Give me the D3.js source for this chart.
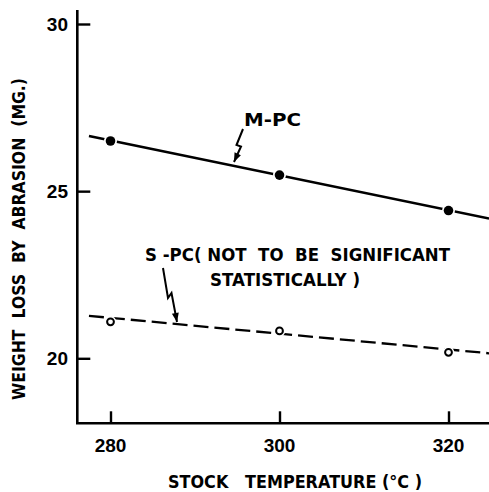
<!DOCTYPE html>
<html>
<head>
<meta charset="utf-8">
<script src="https://cdn.jsdelivr.net/npm/d3@7"></script>
<style>
  html, body { margin: 0; padding: 0; background: #fff; }
  svg { display: block; }
  text { font-family: "Liberation Sans", Arial, sans-serif; font-weight: bold; fill: #000; white-space: pre; }
  text.lbl { font-family: "DejaVu Sans", sans-serif; }
</style>
</head>
<body>
<svg id="chart" width="489" height="492"></svg>
<script>
// Stock temperature (°C) at which samples were moulded
const temperatures = [280, 300, 320];
// Weight loss by abrasion (mg) for the two grades
const mpcValues = [26.5, 25.48, 24.42];
const spcValues = [21.09, 20.82, 20.18];
// Fitted trend lines, given by their end points
const fitTemps = [277.45, 324.8];
const mpcFit = [26.65, 24.18];
const spcFit = [21.27, 20.15];
// Axis ticks
const xTicks = [280, 300, 320];
const yTicks = [20, 25, 30];

const svg = d3.select("#chart");
const x = d3.scaleLinear().domain([280, 320]).range([110.5, 448.5]);
const y = d3.scaleLinear().domain([20, 30]).range([358.3, 24]);

const axisX = x.invert(77.3);
const xEnd = x.invert(489);
const yBottom = y.invert(423.3);
const yTop = y.invert(10);

// Axes with inward ticks
const gy = svg.append("g").attr("transform", `translate(${x(axisX)},0)`)
  .call(d3.axisRight(y).tickValues(yTicks).tickSize(13).tickFormat(""));
const gx = svg.append("g").attr("transform", `translate(0,${y(yBottom)})`)
  .call(d3.axisTop(x).tickValues(xTicks).tickSize(12).tickFormat(""));
[gy, gx].forEach(g => {
  g.select(".domain").remove();
  g.selectAll(".tick line").attr("stroke", "#000").attr("stroke-width", 2.4);
});
svg.append("line")
  .attr("x1", x(axisX)).attr("x2", x(axisX))
  .attr("y1", y(yTop)).attr("y2", y(yBottom))
  .attr("stroke", "#000").attr("stroke-width", 2.6);
svg.append("line")
  .attr("x1", x(axisX) - 1.3).attr("x2", x(xEnd))
  .attr("y1", y(yBottom)).attr("y2", y(yBottom))
  .attr("stroke", "#000").attr("stroke-width", 2.6);

// Tick labels
svg.selectAll(".ylab").data(yTicks).enter().append("text")
  .attr("x", 68).attr("y", d => y(d) + 2)
  .attr("text-anchor", "end").attr("dominant-baseline", "middle")
  .attr("font-size", 19).text(d => d);
svg.selectAll(".xlab").data(xTicks).enter().append("text")
  .attr("x", d => x(d)).attr("y", 452)
  .attr("text-anchor", "middle")
  .attr("font-size", 19).text(d => d);

// Axis titles
svg.append("text").attr("class", "lbl")
  .attr("x", 168).attr("y", 488)
  .attr("font-size", 17.5)
  .attr("textLength", 254).attr("lengthAdjust", "spacingAndGlyphs")
  .text("STOCK   TEMPERATURE (°C )");
svg.append("text").attr("class", "lbl")
  .attr("transform", "translate(25,400) rotate(-90)")
  .attr("font-size", 17.5)
  .attr("textLength", 322).attr("lengthAdjust", "spacingAndGlyphs")
  .text("WEIGHT  LOSS  BY  ABRASION  (MG.)");

// Trend lines
const line = d3.line().x(d => x(d[0])).y(d => y(d[1]));
svg.append("path")
  .attr("d", line(d3.zip(fitTemps, mpcFit)))
  .attr("fill", "none").attr("stroke", "#000").attr("stroke-width", 2.6);
svg.append("path")
  .attr("d", line(d3.zip(fitTemps, spcFit)))
  .attr("fill", "none").attr("stroke", "#000").attr("stroke-width", 2.3)
  .attr("stroke-dasharray", "15,6");

// Measured points
svg.selectAll(".mpc").data(d3.zip(temperatures, mpcValues)).enter().append("circle")
  .attr("cx", d => x(d[0])).attr("cy", d => y(d[1])).attr("r", 6.5)
  .attr("fill", "#fff");
svg.selectAll(".mpc2").data(d3.zip(temperatures, mpcValues)).enter().append("circle")
  .attr("cx", d => x(d[0])).attr("cy", d => y(d[1])).attr("r", 4.8)
  .attr("fill", "#000");
svg.selectAll(".spc").data(d3.zip(temperatures, spcValues)).enter().append("circle")
  .attr("cx", d => x(d[0])).attr("cy", d => y(d[1])).attr("r", 5.8)
  .attr("fill", "#fff");
svg.selectAll(".spc2").data(d3.zip(temperatures, spcValues)).enter().append("circle")
  .attr("cx", d => x(d[0])).attr("cy", d => y(d[1])).attr("r", 3.4)
  .attr("fill", "#fff").attr("stroke", "#000").attr("stroke-width", 2);

// Series labels with zigzag leaders
svg.append("text").attr("class", "lbl")
  .attr("x", 244).attr("y", 125.5).attr("font-size", 18)
  .attr("textLength", 57).attr("lengthAdjust", "spacingAndGlyphs")
  .text("M-PC");
svg.append("text").attr("class", "lbl")
  .attr("x", 145).attr("y", 261).attr("font-size", 18)
  .attr("textLength", 305).attr("lengthAdjust", "spacingAndGlyphs")
  .text("S -PC( NOT  TO  BE  SIGNIFICANT");
svg.append("text").attr("class", "lbl")
  .attr("x", 210).attr("y", 285.5).attr("font-size", 18)
  .attr("textLength", 150).attr("lengthAdjust", "spacingAndGlyphs")
  .text("STATISTICALLY )");

function leader(points) {
  svg.append("path")
    .attr("d", d3.line()(points))
    .attr("fill", "none").attr("stroke", "#000").attr("stroke-width", 2)
    .attr("stroke-linejoin", "miter");
  const [a, b] = points.slice(-2);
  const ang = Math.atan2(b[1] - a[1], b[0] - a[0]);
  const L = 9, W = 3.5;
  const bx = b[0] - L * Math.cos(ang), by = b[1] - L * Math.sin(ang);
  const px = -Math.sin(ang) * W, py = Math.cos(ang) * W;
  svg.append("path")
    .attr("d", `M${b[0]},${b[1]}L${bx + px},${by + py}L${bx - px},${by - py}Z`)
    .attr("fill", "#000");
}
leader([[243, 129], [236.5, 145], [241, 146.5], [234, 162]]);
leader([[163, 268], [168, 298], [171.5, 293], [177, 322]]);
</script>
</body>
</html>
